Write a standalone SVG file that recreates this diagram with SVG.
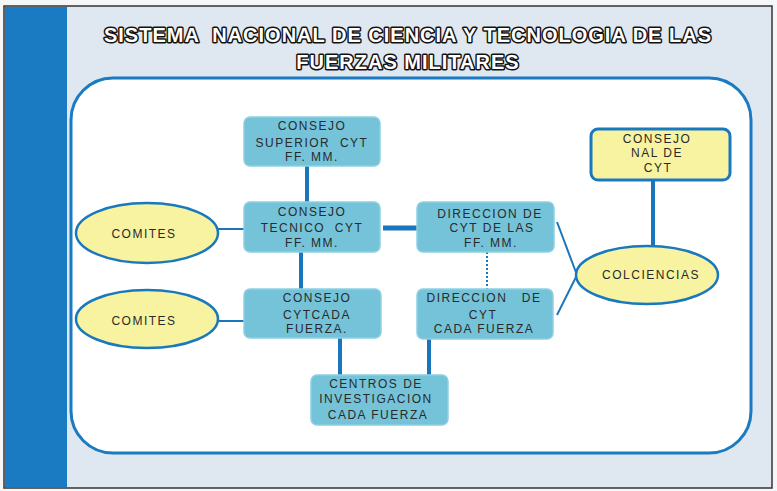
<svg xmlns="http://www.w3.org/2000/svg" width="777" height="491" viewBox="0 0 777 491" style="white-space:pre">
<defs>
<style>
text{white-space:pre}
.box{fill:#74c3d9;stroke:#8fd0e2;stroke-width:1.5}
.ell{fill:#f7f3a0;stroke:#1a78be;stroke-width:2.5}
.nal{fill:#f7f3a0;stroke:#1a78be;stroke-width:3}
.t{font-family:"Liberation Sans",Arial,sans-serif;font-size:12px;fill:#2a2a2a;text-anchor:middle;letter-spacing:1.5px}
.title{font-family:"Liberation Sans",Arial,sans-serif;font-size:20px;font-weight:bold;fill:#ffffff;stroke:#111;stroke-width:3;stroke-linejoin:round;paint-order:stroke;text-anchor:middle;letter-spacing:1px}
.c{stroke:#1a75bb;fill:none}
</style>
</defs>
<rect x="0" y="0" width="777" height="491" fill="#f4f6f8"/>
<rect x="4" y="6" width="768" height="482" fill="#dfe7f0" stroke="#333" stroke-width="1.5"/>
<rect x="5" y="7" width="62" height="480" fill="#1a7bc2"/>
<rect x="71" y="78" width="680" height="375" rx="42" fill="#ffffff" stroke="#1a7bc2" stroke-width="3"/>
<g id="title">
<text class="title" x="408" y="42" xml:space="preserve">SISTEMA  NACIONAL DE CIENCIA Y TECNOLOGIA DE LAS</text>
<text class="title" x="408" y="69">FUERZAS MILITARES</text>
</g>
<g id="connectors">
<line class="c" x1="307" y1="166" x2="307" y2="202" stroke-width="4"/>
<line class="c" x1="383" y1="228" x2="417" y2="228" stroke-width="5"/>
<line class="c" x1="218" y1="229" x2="244" y2="229" stroke-width="2"/>
<line class="c" x1="301" y1="252" x2="301" y2="289" stroke-width="4"/>
<line class="c" x1="218" y1="321" x2="244" y2="321" stroke-width="2"/>
<line class="c" x1="487" y1="252" x2="487" y2="289" stroke-width="2" stroke-dasharray="2,2"/>
<line class="c" x1="340" y1="338" x2="340" y2="375" stroke-width="4"/>
<line class="c" x1="429" y1="339" x2="429" y2="375" stroke-width="4"/>
<line class="c" x1="653" y1="180" x2="653" y2="247" stroke-width="4"/>
<line class="c" x1="557" y1="222" x2="577" y2="275" stroke-width="2"/>
<line class="c" x1="557" y1="315" x2="577" y2="275" stroke-width="2"/>
</g>
<g id="superior">
<rect class="box" x="244" y="117" width="136" height="49" rx="6"/>
<text class="t" x="312" y="130">CONSEJO</text>
<text class="t" x="312" y="147" xml:space="preserve">SUPERIOR  CYT</text>
<text class="t" x="312" y="161">FF. MM.</text>
</g>
<g id="tecnico">
<rect class="box" x="244" y="202" width="136" height="50" rx="6"/>
<text class="t" x="312" y="216">CONSEJO</text>
<text class="t" x="312" y="232" xml:space="preserve">TECNICO  CYT</text>
<text class="t" x="312" y="247">FF. MM.</text>
</g>
<g id="direccion-ffmm">
<rect class="box" x="417" y="202" width="137" height="50" rx="6"/>
<text class="t" x="490" y="218">DIRECCION DE</text>
<text class="t" x="492" y="232">CYT DE LAS</text>
<text class="t" x="491" y="247">FF. MM.</text>
</g>
<g id="consejo-cada">
<rect class="box" x="244" y="289" width="137" height="49" rx="6"/>
<text class="t" x="317" y="302">CONSEJO</text>
<text class="t" x="317" y="319">CYTCADA</text>
<text class="t" x="317" y="333">FUERZA.</text>
</g>
<g id="direccion-cada">
<rect class="box" x="417" y="289" width="136" height="50" rx="6"/>
<text class="t" x="484" y="302" xml:space="preserve">DIRECCION   DE</text>
<text class="t" x="483" y="319">CYT</text>
<text class="t" x="484" y="333">CADA FUERZA</text>
</g>
<g id="centros">
<rect class="box" x="311" y="375" width="137" height="50" rx="6"/>
<text class="t" x="376" y="388">CENTROS DE</text>
<text class="t" x="376" y="403">INVESTIGACION</text>
<text class="t" x="378" y="419">CADA FUERZA</text>
</g>
<g id="consejo-nal">
<rect class="nal" x="591" y="129" width="139" height="51" rx="7"/>
<text class="t" x="657" y="143">CONSEJO</text>
<text class="t" x="657" y="157">NAL DE</text>
<text class="t" x="658" y="172">CYT</text>
</g>
<g id="colciencias">
<ellipse class="ell" cx="647" cy="275" rx="71" ry="29"/>
<text class="t" x="651" y="279">COLCIENCIAS</text>
</g>
<g id="comites1">
<ellipse class="ell" cx="147" cy="233" rx="71" ry="30"/>
<text class="t" x="144" y="238">COMITES</text>
</g>
<g id="comites2">
<ellipse class="ell" cx="147" cy="319" rx="71" ry="29"/>
<text class="t" x="144" y="325">COMITES</text>
</g>
</svg>
